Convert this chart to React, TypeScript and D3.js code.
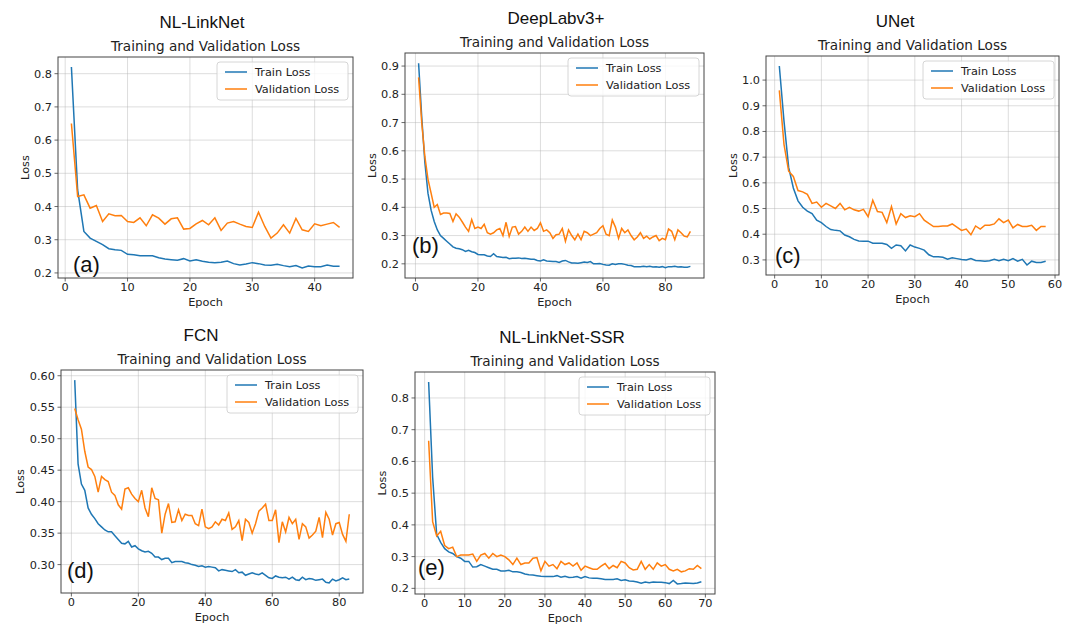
import React from "react";
import * as d3 from "d3";

// loss values, one entry per epoch (epoch 1..n)
const nlTrain = [0.82, 0.45, 0.325, 0.305, 0.295, 0.285, 0.273, 0.27, 0.268, 0.256, 0.255, 0.252, 0.252, 0.252, 0.246, 0.242, 0.24, 0.238, 0.243, 0.236, 0.24, 0.235, 0.232, 0.231, 0.232, 0.236, 0.228, 0.224, 0.227, 0.231, 0.228, 0.224, 0.223, 0.226, 0.222, 0.219, 0.222, 0.215, 0.221, 0.219, 0.219, 0.224, 0.22, 0.22];
const nlVal = [0.65, 0.43, 0.435, 0.395, 0.403, 0.355, 0.378, 0.372, 0.373, 0.355, 0.352, 0.366, 0.342, 0.375, 0.365, 0.347, 0.363, 0.366, 0.332, 0.334, 0.348, 0.358, 0.345, 0.366, 0.328, 0.35, 0.355, 0.347, 0.34, 0.337, 0.383, 0.34, 0.305, 0.32, 0.345, 0.32, 0.364, 0.33, 0.325, 0.348, 0.342, 0.347, 0.352, 0.337];

const dlTrain = [0.91, 0.72, 0.56, 0.45, 0.39, 0.35, 0.32, 0.3, 0.29, 0.28, 0.27, 0.26, 0.255, 0.253, 0.25, 0.244, 0.248, 0.243, 0.24, 0.233, 0.232, 0.232, 0.228, 0.226, 0.236, 0.226, 0.224, 0.222, 0.223, 0.218, 0.22, 0.22, 0.221, 0.219, 0.22, 0.218, 0.216, 0.216, 0.212, 0.21, 0.214, 0.21, 0.209, 0.208, 0.208, 0.205, 0.21, 0.212, 0.207, 0.203, 0.203, 0.202, 0.204, 0.206, 0.205, 0.208, 0.2, 0.2, 0.201, 0.198, 0.196, 0.195, 0.2, 0.198, 0.2, 0.2, 0.198, 0.195, 0.194, 0.19, 0.19, 0.19, 0.191, 0.19, 0.191, 0.189, 0.19, 0.188, 0.19, 0.186, 0.19, 0.19, 0.191, 0.189, 0.19, 0.188, 0.188, 0.191];
const dlVal = [0.86, 0.7, 0.58, 0.5, 0.45, 0.4, 0.41, 0.375, 0.38, 0.38, 0.378, 0.35, 0.377, 0.365, 0.348, 0.33, 0.315, 0.357, 0.325, 0.33, 0.325, 0.34, 0.31, 0.305, 0.31, 0.32, 0.325, 0.3, 0.347, 0.297, 0.33, 0.332, 0.305, 0.315, 0.33, 0.315, 0.33, 0.318, 0.325, 0.345, 0.315, 0.32, 0.31, 0.29, 0.303, 0.305, 0.325, 0.28, 0.32, 0.3, 0.285, 0.305, 0.285, 0.315, 0.31, 0.3, 0.305, 0.31, 0.325, 0.335, 0.305, 0.3, 0.355, 0.33, 0.29, 0.325, 0.31, 0.32, 0.3, 0.285, 0.295, 0.31, 0.29, 0.298, 0.288, 0.295, 0.3, 0.282, 0.29, 0.285, 0.323, 0.315, 0.285, 0.32, 0.31, 0.298, 0.295, 0.315];

const unTrain = [1.055, 0.84, 0.66, 0.58, 0.53, 0.505, 0.49, 0.48, 0.455, 0.445, 0.43, 0.418, 0.415, 0.413, 0.397, 0.39, 0.38, 0.374, 0.373, 0.373, 0.365, 0.365, 0.365, 0.36, 0.345, 0.358, 0.355, 0.335, 0.358, 0.35, 0.345, 0.338, 0.32, 0.312, 0.312, 0.31, 0.303, 0.308, 0.305, 0.302, 0.3, 0.305, 0.298, 0.297, 0.295, 0.297, 0.302, 0.297, 0.302, 0.297, 0.305, 0.295, 0.302, 0.28, 0.295, 0.29, 0.29, 0.295];
const unVal = [0.96, 0.75, 0.645, 0.625, 0.57, 0.565, 0.555, 0.52, 0.525, 0.505, 0.52, 0.51, 0.5, 0.52, 0.495, 0.505, 0.495, 0.49, 0.497, 0.468, 0.532, 0.488, 0.485, 0.445, 0.508, 0.44, 0.48, 0.465, 0.472, 0.468, 0.48, 0.455, 0.442, 0.43, 0.43, 0.432, 0.432, 0.44, 0.428, 0.415, 0.42, 0.398, 0.432, 0.42, 0.435, 0.435, 0.44, 0.46, 0.445, 0.455, 0.425, 0.438, 0.43, 0.43, 0.435, 0.415, 0.43, 0.43];

const fcnTrain = [0.593, 0.46, 0.428, 0.418, 0.39, 0.38, 0.373, 0.365, 0.36, 0.355, 0.352, 0.352, 0.346, 0.34, 0.334, 0.333, 0.337, 0.328, 0.33, 0.325, 0.322, 0.32, 0.321, 0.318, 0.312, 0.312, 0.308, 0.31, 0.31, 0.303, 0.305, 0.305, 0.305, 0.303, 0.302, 0.3, 0.299, 0.297, 0.298, 0.296, 0.297, 0.296, 0.295, 0.29, 0.292, 0.291, 0.29, 0.289, 0.292, 0.287, 0.288, 0.283, 0.285, 0.287, 0.285, 0.284, 0.287, 0.283, 0.279, 0.278, 0.282, 0.28, 0.279, 0.28, 0.277, 0.28, 0.276, 0.275, 0.28, 0.276, 0.278, 0.277, 0.275, 0.276, 0.277, 0.272, 0.271, 0.277, 0.274, 0.276, 0.279, 0.276, 0.277];
const fcnVal = [0.548, 0.53, 0.515, 0.48, 0.455, 0.451, 0.44, 0.415, 0.44, 0.435, 0.432, 0.415, 0.41, 0.395, 0.388, 0.42, 0.422, 0.412, 0.405, 0.4, 0.418, 0.39, 0.376, 0.422, 0.405, 0.403, 0.35, 0.38, 0.397, 0.367, 0.368, 0.387, 0.37, 0.38, 0.378, 0.378, 0.365, 0.362, 0.388, 0.36, 0.357, 0.36, 0.368, 0.363, 0.372, 0.37, 0.382, 0.356, 0.36, 0.37, 0.338, 0.372, 0.367, 0.35, 0.365, 0.385, 0.39, 0.396, 0.37, 0.37, 0.387, 0.335, 0.368, 0.352, 0.375, 0.365, 0.372, 0.34, 0.365, 0.36, 0.342, 0.347, 0.353, 0.375, 0.343, 0.383, 0.372, 0.347, 0.365, 0.367, 0.348, 0.337, 0.38];

const ssrTrain = [0.85, 0.55, 0.37, 0.345, 0.325, 0.315, 0.31, 0.3, 0.295, 0.285, 0.285, 0.267, 0.268, 0.275, 0.27, 0.265, 0.26, 0.26, 0.255, 0.255, 0.257, 0.252, 0.252, 0.25, 0.245, 0.243, 0.242, 0.24, 0.238, 0.237, 0.237, 0.237, 0.24, 0.235, 0.238, 0.234, 0.235, 0.237, 0.232, 0.237, 0.233, 0.232, 0.232, 0.23, 0.228, 0.228, 0.228, 0.23, 0.225, 0.227, 0.223, 0.222, 0.22, 0.216, 0.22, 0.218, 0.22, 0.219, 0.219, 0.218, 0.215, 0.225, 0.214, 0.215, 0.217, 0.216, 0.215, 0.217, 0.221];
const ssrVal = [0.665, 0.41, 0.365, 0.38, 0.335, 0.325, 0.33, 0.3, 0.305, 0.305, 0.305, 0.308, 0.285, 0.305, 0.31, 0.295, 0.31, 0.3, 0.305, 0.3, 0.29, 0.275, 0.295, 0.275, 0.28, 0.28, 0.295, 0.297, 0.255, 0.285, 0.27, 0.275, 0.262, 0.285, 0.275, 0.28, 0.27, 0.28, 0.257, 0.27, 0.265, 0.26, 0.26, 0.27, 0.278, 0.262, 0.272, 0.265, 0.285, 0.28, 0.265, 0.258, 0.26, 0.285, 0.26, 0.275, 0.26, 0.28, 0.27, 0.275, 0.26, 0.255, 0.26, 0.252, 0.255, 0.262, 0.26, 0.272, 0.262];

const xTicksA = [0, 10, 20, 30, 40];
const yTicksA = [0.2, 0.3, 0.4, 0.5, 0.6, 0.7, 0.8];
const xTicksB = [0, 20, 40, 60, 80];
const yTicksB = [0.2, 0.3, 0.4, 0.5, 0.6, 0.7, 0.8, 0.9];
const xTicksC = [0, 10, 20, 30, 40, 50, 60];
const yTicksC = [0.3, 0.4, 0.5, 0.6, 0.7, 0.8, 0.9, 1.0];
const xTicksD = [0, 20, 40, 60, 80];
const yTicksD = [0.3, 0.35, 0.4, 0.45, 0.5, 0.55, 0.6];
const xTicksE = [0, 10, 20, 30, 40, 50, 60, 70];
const yTicksE = [0.2, 0.3, 0.4, 0.5, 0.6, 0.7, 0.8];

const TRAIN = "#1f77b4";
const VAL = "#ff7f0e";
const MPL = "DejaVu Sans, sans-serif";
const ARIAL = "Liberation Sans, Arial, sans-serif";

// box = [left, top, right, bottom] of the axes frame
const panels = [
  { name: "NL-LinkNet", tag: "(a)", train: nlTrain, val: nlVal, xTicks: xTicksA, yTicks: yTicksA, fmt: ".1f", box: [58, 57, 353, 278], titleX: 202, tagX: 73, tagY: 272 },
  { name: "DeepLabv3+", tag: "(b)", train: dlTrain, val: dlVal, xTicks: xTicksB, yTicks: yTicksB, fmt: ".1f", box: [405, 53, 704, 278], titleX: 556, tagX: 412, tagY: 253 },
  { name: "UNet", tag: "(c)", train: unTrain, val: unVal, xTicks: xTicksC, yTicks: yTicksC, fmt: ".1f", box: [766, 56, 1059, 275], titleX: 895, tagX: 775, tagY: 263 },
  { name: "FCN", tag: "(d)", train: fcnTrain, val: fcnVal, xTicks: xTicksD, yTicks: yTicksD, fmt: ".2f", box: [61, 370, 363, 593], titleX: 201, tagX: 67, tagY: 578 },
  { name: "NL-LinkNet-SSR", tag: "(e)", train: ssrTrain, val: ssrVal, xTicks: xTicksE, yTicks: yTicksE, fmt: ".1f", box: [415, 372, 715, 594], titleX: 562, tagX: 418, tagY: 575 },
];

const Panel = ({ p }: { p: any }) => {
  const [x0, y0, x1, y1] = p.box;
  const n = p.train.length;
  const all = p.train.concat(p.val);
  const [lo, hi] = d3.extent(all) as [number, number];
  const padY = (hi - lo) * 0.05;
  const padX = (n - 1) * 0.05;
  const x = d3.scaleLinear().domain([1 - padX, n + padX]).range([x0, x1]);
  const y = d3.scaleLinear().domain([lo - padY, hi + padY]).range([y1, y0]);
  const line = d3
    .line<number>()
    .x((_, i) => x(i + 1))
    .y((d) => y(d));
  const fmt = d3.format(p.fmt);
  const labelW = d3.max(p.yTicks.map((t: number) => fmt(t).length)) as number;
  const cx = (x0 + x1) / 2;
  const cy = (y0 + y1) / 2;
  const lgX = x1 - 136;
  const lgY = y0 + 5;

  return (
    <g>
      <text x={p.titleX} y={y0 - 29} textAnchor="middle" fontFamily={ARIAL} fontSize={17} fill="#111">
        {p.name}
      </text>
      <text x={cx} y={y0 - 6} textAnchor="middle" fontFamily={MPL} fontSize={13.6} fill="#222">
        Training and Validation Loss
      </text>

      {/* grid */}
      {p.xTicks.map((t: number) => (
        <line key={"gx" + t} x1={x(t)} x2={x(t)} y1={y0} y2={y1} stroke="#b0b0b0" strokeOpacity={0.55} strokeWidth={0.8} />
      ))}
      {p.yTicks.map((t: number) => (
        <line key={"gy" + t} x1={x0} x2={x1} y1={y(t)} y2={y(t)} stroke="#b0b0b0" strokeOpacity={0.55} strokeWidth={0.8} />
      ))}

      <path d={line(p.train) as string} fill="none" stroke={TRAIN} strokeWidth={1.5} />
      <path d={line(p.val) as string} fill="none" stroke={VAL} strokeWidth={1.5} />

      <rect x={x0} y={y0} width={x1 - x0} height={y1 - y0} fill="none" stroke="#444" strokeWidth={1} />

      {/* ticks */}
      {p.xTicks.map((t: number) => (
        <g key={"tx" + t}>
          <line x1={x(t)} x2={x(t)} y1={y1} y2={y1 + 3.5} stroke="#444" strokeWidth={0.8} />
          <text x={x(t)} y={y1 + 13} textAnchor="middle" fontFamily={MPL} fontSize={11.3} fill="#222">
            {t}
          </text>
        </g>
      ))}
      {p.yTicks.map((t: number) => (
        <g key={"ty" + t}>
          <line x1={x0 - 3.5} x2={x0} y1={y(t)} y2={y(t)} stroke="#444" strokeWidth={0.8} />
          <text x={x0 - 6} y={y(t) + 4} textAnchor="end" fontFamily={MPL} fontSize={11.3} fill="#222">
            {fmt(t)}
          </text>
        </g>
      ))}

      <text x={cx} y={y1 + 28} textAnchor="middle" fontFamily={MPL} fontSize={11.3} fill="#222">
        Epoch
      </text>
      <text
        transform={`translate(${x0 - (labelW === 4 ? 41 : 33)}, ${cy}) rotate(-90)`}
        textAnchor="middle"
        fontFamily={MPL}
        fontSize={11.3}
        dy={4}
        fill="#222"
      >
        Loss
      </text>

      {/* legend */}
      <rect x={lgX} y={lgY} width={131} height={38} rx={3} fill="#fff" fillOpacity={0.8} stroke="#ccc" strokeWidth={0.8} />
      <line x1={lgX + 8} x2={lgX + 30} y1={lgY + 10} y2={lgY + 10} stroke={TRAIN} strokeWidth={1.5} />
      <text x={lgX + 38} y={lgY + 14} fontFamily={MPL} fontSize={11.3} fill="#222">
        Train Loss
      </text>
      <line x1={lgX + 8} x2={lgX + 30} y1={lgY + 27} y2={lgY + 27} stroke={VAL} strokeWidth={1.5} />
      <text x={lgX + 38} y={lgY + 31} fontFamily={MPL} fontSize={11.3} fill="#222">
        Validation Loss
      </text>

      <text x={p.tagX} y={p.tagY} fontFamily={ARIAL} fontSize={22} fill="#111">
        {p.tag}
      </text>
    </g>
  );
};

const App = () => (
  <svg width={1073} height={626} style={{ position: "absolute", left: 0, top: 0, background: "#fff" }}>
    {panels.map((p) => (
      <Panel key={p.name} p={p} />
    ))}
  </svg>
);

export default App;
